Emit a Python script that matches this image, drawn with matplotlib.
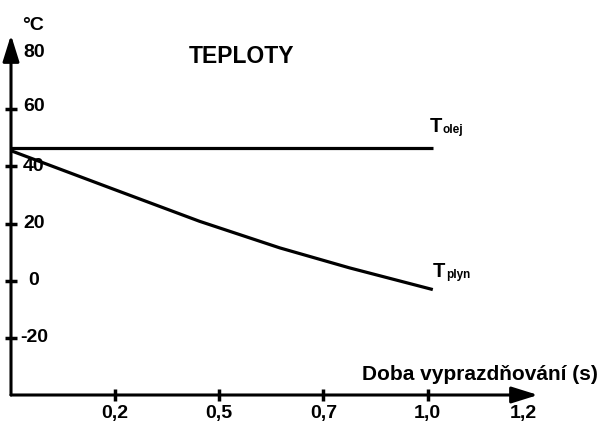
import matplotlib
matplotlib.use("Agg")
import matplotlib.pyplot as plt

plt.rcParams['font.family'] = ['Liberation Sans', 'DejaVu Sans']
plt.rcParams['font.weight'] = 'bold'

# data (x = tick position on the hand drawn axis, 1..5)
x_ticks = [1, 2, 3, 4]
x_labels = ["0,2", "0,5", "0,7", "1,0", "1,2"]
x_label_pos = [1, 2, 3, 4, 4.92]
y_ticks = [60, 40, 20, 0, -20]
y_labels = ["80", "60", "40", "20", "0", "-20"]
y_label_val = [80, 61, 40, 20, 0, -20]

olej_x = [0, 4.05]
olej_y = [46.5, 46.5]
plyn_x = [0, 0.95, 1.81, 2.58, 3.25, 4.05]
plyn_y = [45.5, 32.5, 20.8, 11.5, 4.5, -3.1]

fig = plt.figure(figsize=(6.06, 4.22), dpi=100)
ax = fig.add_axes([11 / 606, 27 / 422, 527 / 606, 360 / 422])
ax.set_xlim(0, 5.06)
ax.set_ylim(-40, 86)
for s in ax.spines.values():
    s.set_visible(False)

ax.plot(olej_x, olej_y, color='black', lw=2.3, solid_capstyle='butt')
ax.plot(plyn_x, plyn_y, color='black', lw=2.3, solid_capstyle='butt')

# axes with arrows
arrow = dict(arrowstyle='-|>,head_length=0.8,head_width=0.25', color='black',
             lw=2.2, mutation_scale=20, shrinkA=0, shrinkB=0)
ax.annotate('', xy=(0, 86), xytext=(0, -40), arrowprops=arrow, annotation_clip=False)
ax.annotate('', xy=(5.06, -40), xytext=(0, -40), arrowprops=arrow, annotation_clip=False)

ax.set_xticks(x_ticks)
ax.set_yticks(y_ticks)
ax.set_xticklabels([])
ax.set_yticklabels([])
ax.tick_params(direction='inout', length=8, width=2.5, color='black')

for p, lab in zip(x_label_pos, x_labels):
    ax.text(p, -46.5, lab, ha='center', va='center', fontsize=14, fontweight='bold')
for v, lab in zip(y_label_val, y_labels):
    ax.text(0.22, v, lab, ha='center', va='center', fontsize=14, fontweight='bold')

ax.text(0.21, 89.4, "°C", ha='center', va='center', fontsize=14, fontweight='bold')
ax.text(2.21, 78.6, "TEPLOTY", ha='center', va='center', fontsize=16.5, fontweight='bold')
ax.text(3.37, -32.8, "Doba vyprazdňování (s)", ha='left', va='center',
        fontsize=15, fontweight='bold')

ax.text(4.02, 52.1, "T", ha='left', va='baseline', fontsize=14.5, fontweight='bold')
ax.text(4.145, 51.6, "olej", ha='left', va='baseline', fontsize=8.5, fontweight='bold')
ax.text(4.05, 1.4, "T", ha='left', va='baseline', fontsize=14.5, fontweight='bold')
ax.text(4.175, 0.9, "plyn", ha='left', va='baseline', fontsize=8.5, fontweight='bold')

fig.savefig("out.png", dpi=100)
